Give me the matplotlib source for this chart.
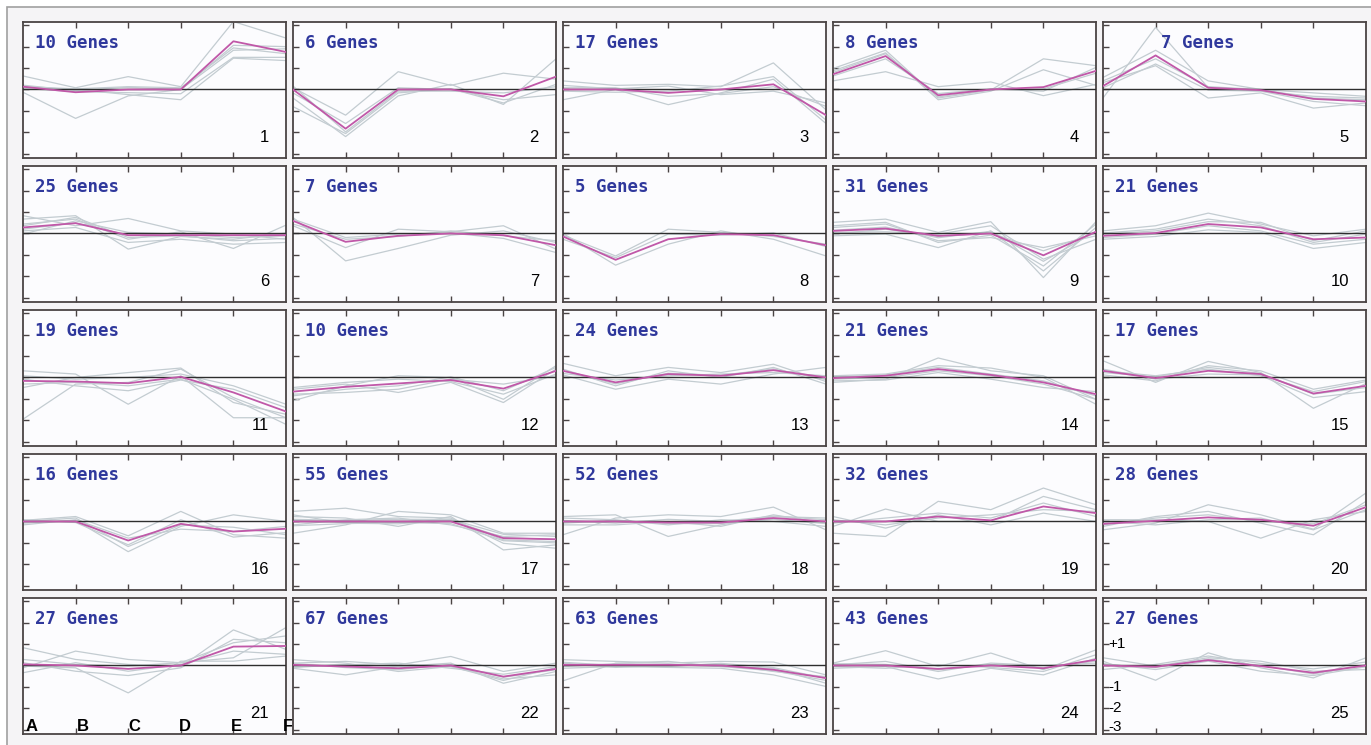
import matplotlib
matplotlib.use("Agg")
import matplotlib.pyplot as plt
from matplotlib.patches import Rectangle

# ---------------- data ----------------
conditions = ["A", "B", "C", "D", "E", "F"]
y_tick_values = [-3, -2, -1, 0, 1, 2, 3]
y_labels = {"+1": 1, "-1": -1, "-2": -2, "-3": -3}
gene_counts = [10, 6, 17, 8, 7, 25, 7, 5, 31, 21, 19, 10, 24, 21, 17,
               16, 55, 52, 32, 28, 27, 67, 63, 43, 27]

c1_mean = [0.13, -0.13, 0.0, 0.0, 2.25, 1.75]
c1_genes = [[0.63, 0.08, 0.6, 0.13, 3.17, 2.4], [-0.13, -1.35, -0.3, 0.0, 2.06, 2.0],
            [0.08, 0.0, -0.24, -0.48, 1.46, 1.35], [0.13, 0.03, 0.13, 0.08, 1.94, 1.67],
            [0.2, -0.05, 0.1, 0.0, 1.83, 1.9], [0.05, -0.1, -0.15, -0.2, 1.5, 1.5]]
c2_mean = [0.0, -1.83, 0.0, 0.0, -0.32, 0.6]
c2_genes = [[0.08, -1.2, 0.83, 0.19, 0.76, 0.48], [-0.4, -2.2, -0.3, 0.24, -0.7, 1.43],
            [-0.8, -2.06, -0.16, 0.03, -0.63, 0.24], [-0.16, -1.59, 0.08, 0.0, -0.48, -0.24],
            [0.16, -1.98, -0.08, -0.08, -0.16, 0.13]]
c3_mean = [0.0, 0.0, -0.16, 0.0, 0.24, -1.2]
c3_genes = [[0.4, 0.19, 0.24, 0.13, 1.24, -0.95], [-0.48, 0.0, -0.71, -0.16, 0.48, -1.59],
            [0.08, 0.08, -0.32, -0.19, 0.13, -0.79], [-0.08, -0.13, -0.08, 0.16, 0.6, -1.43],
            [0.19, 0.03, 0.16, -0.24, -0.08, -0.63]]
c4_mean = [0.71, 1.56, -0.27, 0.0, 0.11, 0.87]
c4_genes = [[0.4, 0.83, 0.13, 0.35, -0.29, 0.24], [0.98, 1.83, -0.4, -0.03, 1.43, 1.11],
            [0.87, 1.71, -0.48, -0.08, 0.92, 0.19], [0.63, 1.43, -0.19, 0.03, -0.08, 1.03],
            [0.79, 1.67, -0.35, 0.0, 0.03, 0.76]]
c5_mean = [0.16, 1.59, 0.08, -0.03, -0.44, -0.56]
c5_genes = [[-0.4, 2.9, 0.08, -0.08, -0.32, -0.4], [0.56, 1.83, 0.4, 0.0, -0.16, -0.32],
            [0.32, 1.11, -0.4, -0.16, -0.87, -0.63], [0.08, 1.19, -0.03, -0.08, -0.56, -0.76],
            [0.4, 1.43, 0.13, 0.0, -0.4, -0.48]]
c6_mean = [0.28, 0.48, -0.08, -0.08, -0.08, -0.08]
c6_genes = [[0.83, 0.36, 0.7, 0.12, -0.03, -0.27], [0.67, 0.83, -0.73, -0.14, -0.27, 0.02],
            [0.44, 0.67, -0.27, 0.08, -0.7, 0.39], [0.12, 0.28, -0.42, -0.27, -0.5, -0.42],
            [-0.03, 0.59, 0.05, -0.03, -0.19, -0.11], [0.36, 0.75, -0.19, -0.11, -0.34, -0.23],
            [0.2, 0.5, -0.1, 0.0, -0.1, -0.05]]
c7_mean = [0.59, -0.39, -0.11, 0.0, -0.08, -0.55]
c7_genes = [[0.75, -1.28, -0.7, -0.08, 0.12, -0.42], [0.36, -0.66, 0.2, 0.08, 0.36, -0.73],
            [0.67, -0.19, -0.03, 0.02, -0.23, -0.89], [0.44, -0.27, -0.14, 0.12, -0.11, -0.34]]
c8_mean = [-0.14, -1.23, -0.27, -0.03, -0.08, -0.55]
c8_genes = [[0.0, -1.48, -0.5, 0.12, -0.27, -1.05], [-0.08, -1.05, 0.2, 0.05, -0.14, -0.5],
            [-0.27, -1.13, -0.03, -0.08, 0.03, -0.61]]
c9_mean = [0.12, 0.23, -0.11, 0.0, -1.02, 0.08]
c9_genes = [[0.52, 0.67, 0.05, 0.55, -2.06, 0.55], [-0.11, -0.03, -0.66, 0.12, -1.75, 0.28],
            [0.28, 0.44, -0.34, -0.19, -0.66, -0.11], [0.05, 0.08, -0.03, 0.36, -1.2, -0.27],
            [0.36, 0.52, -0.42, -0.08, -1.52, 0.44], [-0.03, 0.2, -0.14, 0.02, -0.81, 0.02],
            [0.15, 0.3, -0.2, 0.1, -1.3, 0.1]]
c10_mean = [-0.11, 0.02, 0.44, 0.28, -0.27, -0.19]
c10_genes = [[0.12, 0.36, 0.95, 0.44, -0.11, 0.2], [-0.27, -0.14, 0.17, 0.05, -0.7, -0.42],
             [0.02, 0.2, 0.67, 0.36, -0.42, -0.03], [-0.19, -0.03, 0.36, 0.12, -0.5, -0.27],
             [-0.03, 0.12, 0.55, 0.52, -0.34, 0.12]]
c11_mean = [-0.16, -0.19, -0.27, 0.03, -0.7, -1.59]
c11_genes = [[-1.95, -0.31, -0.23, 0.39, -0.94, -1.88], [0.31, 0.16, -1.25, 0.08, -1.88, -1.88],
             [-0.47, 0.0, 0.23, 0.44, -1.17, -1.72], [-0.08, -0.39, -0.62, -0.12, -0.55, -1.41],
             [0.08, -0.08, 0.0, 0.16, -0.39, -1.25], [-0.31, -0.23, -0.39, -0.08, -1.02, -2.19]]
c12_mean = [-0.66, -0.44, -0.28, -0.12, -0.52, 0.31]
c12_genes = [[-1.09, -0.39, 0.08, 0.0, -1.02, 0.55], [-0.47, -0.23, -0.08, -0.19, -0.78, 0.16],
             [-0.78, -0.7, -0.55, -0.08, -0.31, 0.08], [-0.55, -0.31, -0.7, -0.23, -1.17, 0.39],
             [-0.86, -0.55, -0.39, 0.03, -0.62, 0.47]]
c13_mean = [0.31, -0.23, 0.16, 0.08, 0.34, 0.0]
c13_genes = [[0.66, 0.08, 0.47, 0.23, 0.62, -0.19], [0.12, -0.55, -0.08, -0.31, 0.16, 0.47],
             [0.39, -0.39, 0.31, 0.0, 0.47, -0.31], [0.19, -0.12, 0.08, 0.16, 0.23, 0.08],
             [0.3, -0.3, 0.2, 0.1, 0.4, -0.1]]
c14_mean = [-0.03, 0.08, 0.39, 0.12, -0.23, -0.78]
c14_genes = [[-0.23, -0.08, 0.91, 0.31, 0.08, -1.02], [0.08, 0.16, 0.55, 0.44, 0.0, -1.25],
             [-0.16, -0.12, 0.23, -0.08, -0.47, -0.66], [-0.08, 0.0, 0.31, 0.08, -0.31, -1.02],
             [0.03, 0.12, 0.47, 0.16, -0.16, -0.86]]
c15_mean = [0.31, -0.03, 0.31, 0.16, -0.75, -0.39]
c15_genes = [[0.78, -0.23, 0.75, 0.23, -1.44, -0.28], [0.12, -0.16, 0.55, 0.31, -0.55, -0.12],
             [0.31, 0.08, 0.39, 0.08, -0.94, -0.66], [0.39, -0.08, 0.16, 0.12, -0.66, -0.19],
             [0.23, 0.03, 0.47, 0.19, -0.78, -0.47]]
c16_mean = [0.0, 0.0, -0.89, -0.11, -0.47, -0.34]
c16_genes = [[0.05, 0.23, -0.67, 0.47, -0.62, -0.78], [-0.08, 0.05, -1.41, -0.23, 0.31, 0.0],
             [0.08, -0.05, -1.09, 0.08, -0.73, -0.52], [-0.16, 0.08, -0.78, -0.36, -0.47, -0.23],
             [0.0, 0.16, -1.17, -0.16, -0.27, -0.62]]
c17_mean = [0.0, 0.0, 0.0, 0.0, -0.78, -0.83]
c17_genes = [[0.47, 0.62, 0.23, 0.16, -1.02, -1.25], [-0.55, -0.16, 0.47, 0.31, -0.55, -0.55],
             [0.23, 0.16, -0.23, 0.23, -1.33, -1.09], [-0.16, 0.08, 0.16, -0.16, -0.7, -0.62],
             [0.31, -0.08, -0.11, 0.08, -0.86, -0.94], [0.1, 0.05, 0.1, 0.1, -0.6, -0.7],
             [-0.2, -0.1, -0.05, -0.1, -0.9, -1.0], [0.05, -0.05, 0.0, 0.05, -0.75, -0.85]]
c18_mean = [0.0, 0.0, -0.05, -0.05, 0.16, 0.0]
c18_genes = [[-0.62, 0.16, 0.31, 0.23, 0.67, -0.39], [0.23, 0.31, -0.7, -0.16, 0.23, 0.16],
             [-0.16, -0.16, 0.0, -0.23, 0.31, -0.08], [0.16, 0.08, -0.16, 0.08, 0.0, -0.23],
             [0.05, -0.08, 0.1, 0.0, 0.25, 0.08], [-0.08, 0.05, -0.1, -0.1, 0.1, -0.1]]
c19_mean = [0.0, 0.0, 0.23, 0.05, 0.7, 0.39]
c19_genes = [[-0.55, -0.7, 0.94, 0.55, 1.56, 0.78], [-0.23, 0.58, 0.0, 0.0, 1.17, 0.55],
             [0.23, -0.31, 0.31, -0.16, 0.39, 0.0], [-0.08, 0.16, 0.39, 0.16, 0.86, 0.23],
             [0.08, -0.16, 0.16, 0.31, 0.55, 0.47]]
c20_mean = [-0.11, 0.03, 0.19, 0.08, -0.2, 0.67]
c20_genes = [[-0.39, -0.08, 0.78, 0.31, -0.36, 1.33], [0.08, 0.08, 0.0, -0.78, 0.08, 0.47],
             [-0.23, 0.23, 0.47, -0.08, -0.62, 0.94], [0.0, -0.16, 0.08, 0.16, -0.39, 0.55],
             [-0.16, 0.16, 0.31, 0.0, -0.11, 0.78]]
c21_mean = [0.05, 0.0, -0.16, 0.0, 0.88, 0.91]
c21_genes = [[0.83, 0.28, 0.05, -0.06, 1.66, 0.75], [-0.11, 0.67, 0.28, 0.13, 0.36, 1.77],
             [-0.03, -0.11, -1.28, 0.2, 0.2, 0.44], [0.13, -0.27, -0.47, -0.11, 1.22, 1.06],
             [-0.34, 0.13, -0.27, 0.05, 0.67, 0.52], [0.28, 0.05, -0.03, 0.13, 1.06, 1.38]]
c22_mean = [0.03, -0.05, -0.13, 0.0, -0.52, -0.16]
c22_genes = [[0.11, 0.19, 0.03, 0.42, -0.28, 0.11], [-0.13, -0.44, -0.05, 0.11, -0.83, -0.28],
             [0.27, 0.11, -0.28, -0.05, -0.63, -0.44], [-0.05, 0.03, 0.11, -0.13, -0.41, -0.05],
             [0.1, -0.1, -0.2, 0.05, -0.55, -0.2], [-0.1, 0.05, -0.05, -0.05, -0.7, -0.1]]
c23_mean = [0.03, 0.03, 0.03, 0.0, -0.2, -0.59]
c23_genes = [[-0.72, 0.11, 0.19, -0.05, -0.13, -0.83], [0.27, 0.19, 0.11, 0.19, 0.16, -0.44],
             [-0.13, -0.05, -0.09, -0.13, -0.44, -0.98], [0.11, -0.09, 0.0, 0.06, -0.28, -0.52],
             [-0.05, 0.08, 0.05, -0.05, -0.25, -0.7], [0.15, 0.0, -0.05, 0.1, -0.1, -0.6]]
c24_mean = [0.0, 0.0, -0.16, 0.0, -0.13, 0.27]
c24_genes = [[0.11, 0.69, -0.05, 0.58, -0.2, 0.73], [-0.13, -0.05, -0.63, -0.13, -0.44, 0.34],
             [0.03, 0.19, -0.28, 0.11, 0.0, 0.11], [-0.05, -0.13, 0.03, -0.09, -0.28, 0.5],
             [0.08, 0.05, -0.2, 0.05, -0.1, 0.2]]
c25_mean = [0.0, -0.06, 0.25, -0.03, -0.34, 0.0]
c25_genes = [[0.2, -0.69, 0.59, -0.11, -0.58, 0.36], [-0.19, 0.05, 0.44, 0.09, -0.16, 0.16],
             [0.09, -0.19, 0.2, -0.27, -0.47, -0.06], [0.36, -0.03, 0.36, 0.2, -0.27, -0.19],
             [0.05, -0.1, 0.3, 0.0, -0.4, 0.05]]

means = [c1_mean, c2_mean, c3_mean, c4_mean, c5_mean, c6_mean, c7_mean, c8_mean,
         c9_mean, c10_mean, c11_mean, c12_mean, c13_mean, c14_mean, c15_mean,
         c16_mean, c17_mean, c18_mean, c19_mean, c20_mean, c21_mean, c22_mean,
         c23_mean, c24_mean, c25_mean]
genes = [c1_genes, c2_genes, c3_genes, c4_genes, c5_genes, c6_genes, c7_genes, c8_genes,
         c9_genes, c10_genes, c11_genes, c12_genes, c13_genes, c14_genes, c15_genes,
         c16_genes, c17_genes, c18_genes, c19_genes, c20_genes, c21_genes, c22_genes,
         c23_genes, c24_genes, c25_genes]

# ---------------- layout ----------------
W, H = 1371, 745
fig = plt.figure(figsize=(W / 100, H / 100), dpi=100)
fig.patch.set_facecolor("white")
fig.add_artist(Rectangle((7 / W, -0.01), 1.02, (H - 7) / H + 0.01, transform=fig.transFigure,
                         facecolor="#F5F4F6", edgecolor="#A0A0A0", lw=1.2, zorder=0))

x = list(range(len(conditions)))
frame_col = "#4A4444"
for i in range(25):
    r, c = divmod(i, 5)
    left = 23 + 270 * c
    top = 22 + 144 * r
    ax = fig.add_axes([left / W, (H - top - 136) / H, 263 / W, 136 / H])
    ax.set_facecolor("#FCFCFE")
    for g in genes[i]:
        ax.plot(x, g, color="#C3CCD1", lw=0.9, zorder=2)
    ax.axhline(0, color="#2E2E2E", lw=1.0, zorder=3)
    ax.plot(x, means[i], color="#C058A8", lw=1.3, zorder=4)
    ax.set_xlim(0, 5)
    ax.set_ylim(-3.2, 3.15)
    ax.set_xticks([1, 2, 3, 4])
    ax.set_yticks(y_tick_values)
    ax.tick_params(direction="in", length=4.5, width=1, color=frame_col,
                   top=True, bottom=True, left=True, right=False,
                   labelbottom=False, labelleft=False)
    for s in ax.spines.values():
        s.set_color(frame_col)
        s.set_linewidth(1.3)
    tx = 58 if i == 4 else 12
    ax.annotate(f"{gene_counts[i]} Genes", xy=(0, 1), xycoords="axes fraction",
                xytext=(tx, -21), textcoords="offset pixels", ha="left", va="center",
                family="DejaVu Sans Mono", fontweight="bold", fontsize=12.5, color="#2F389C")
    ax.annotate(str(i + 1), xy=(1, 0), xycoords="axes fraction",
                xytext=(-17, 16), textcoords="offset pixels", ha="right", va="baseline",
                family="Liberation Sans", fontsize=12, color="black")
    if i == 20:
        for k, lab in enumerate(conditions):
            ax.text(k + (0.17 if k < 5 else 0.03) - 0.03 * k * (k < 5), -3.18, lab,
                    ha="center", va="bottom", family="Liberation Sans",
                    fontweight="bold", fontsize=12, color="black", zorder=6)
    if i == 24:
        for lab, v in y_labels.items():
            yy = v if v > -3 else -2.85
            ax.text(0.1, yy, lab, ha="left", va="center", family="Liberation Sans",
                    fontsize=11, color="black", zorder=6)

fig.savefig("out.png", dpi=100, facecolor=fig.get_facecolor())
